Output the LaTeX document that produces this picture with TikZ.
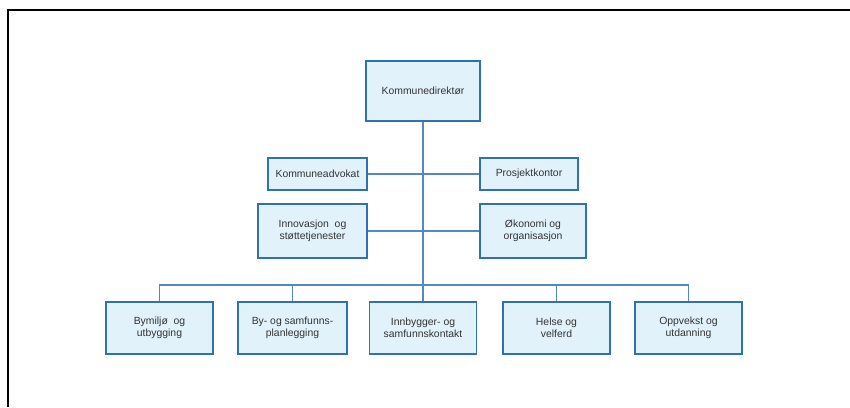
\documentclass[tikz,border=0pt]{standalone}
\usepackage{fontspec}
\setmainfont{Liberation Sans}
\definecolor{boxfill}{HTML}{E2F2FB}
\definecolor{boxdraw}{HTML}{2F71B2}
\definecolor{linecol}{HTML}{5289C0}
\definecolor{txt}{HTML}{333333}
\pgfdeclarelayer{bg}
\pgfsetlayers{bg,main}
\tikzset{
  orgbox/.style={draw=boxdraw, fill=boxfill, line width=1.2pt, inner sep=0pt, align=center,
    text=txt, font=\fontsize{10.4}{12}\selectfont},
  conn/.style={draw=linecol, line width=1.1pt},
  frameline/.style={draw=black, line width=2pt}
}
\begin{document}
\begin{tikzpicture}[x=1pt, y=-1pt]
\useasboundingbox (0,0) rectangle (850,407);
% frame
\coordinate (fl) at (8,407);
\coordinate (fc) at (8,10);
\coordinate (fr) at (850,10);
\draw[frameline] (fl) -- (fc) -- (fr);

% nodes
\node[orgbox, minimum width=114pt, minimum height=60pt] (kd) at (423,91) {Kommunedirektør};
\node[orgbox, minimum width=99pt, minimum height=32pt] (ka) at (317.5,174) {Kommuneadvokat};
\node[orgbox, minimum width=98pt, minimum height=32pt] (pk) at (529,174) {Prosjektkontor};
\node[orgbox, minimum width=109pt, minimum height=54pt] (is) at (312.5,231) {Innovasjon\ \ og\\støttetjenester};
\node[orgbox, minimum width=106pt, minimum height=54pt] (oo) at (533,231) {Økonomi og\\organisasjon};

\node[orgbox, minimum width=107pt, minimum height=52pt] (b1) at (159.5,328) {Bymiljø\ \ og\\utbygging};
\node[orgbox, minimum width=109pt, minimum height=52pt] (b2) at (292.5,328) {By- og samfunns-\\planlegging};
\node[orgbox, minimum width=107pt, minimum height=52pt] (b3) at (423,328) {Innbygger- og\\samfunnskontakt};
\node[orgbox, minimum width=107pt, minimum height=52pt] (b4) at (556.5,328) {Helse og\\velferd};
\node[orgbox, minimum width=107pt, minimum height=52pt] (b5) at (688.5,328) {Oppvekst og\\utdanning};

\coordinate (bus) at (423,285);

% connectors
\begin{pgfonlayer}{bg}
\draw[conn] (kd.south) -- (b3.north);
\draw[conn] (ka.east) -- (pk.west);
\draw[conn] (is.east) -- (oo.west);
\draw[conn] (b1.north) -- (b1.north |- bus) -- (b5.north |- bus) -- (b5.north);
\draw[conn] (b2.north) -- (b2.north |- bus);
\draw[conn] (b4.north) -- (b4.north |- bus);
\end{pgfonlayer}
\end{tikzpicture}
\end{document}
